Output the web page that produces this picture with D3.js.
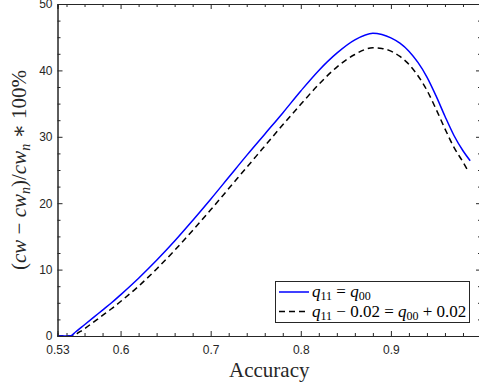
<!DOCTYPE html>
<html>
<head>
<meta charset="utf-8">
<script src="https://cdn.jsdelivr.net/npm/d3@7"></script>
<style>
  body { margin: 0; background: #fff; }
  svg { display: block; }
  .tick text { font-family: "Liberation Sans", Arial, sans-serif; font-size: 12px; fill: #262626; }
</style>
</head>
<body>
<svg id="chart"></svg>
<script>
// Data
var accEqual = [0.53, 0.544, 0.55, 0.56, 0.57, 0.58, 0.59, 0.60, 0.62, 0.64, 0.66, 0.68, 0.70, 0.72, 0.74, 0.76, 0.78, 0.80, 0.82, 0.84, 0.86, 0.88, 0.89, 0.90, 0.91, 0.92, 0.93, 0.94, 0.95, 0.96, 0.97, 0.98, 0.988];
var gainEqual = [0, 0, 0.6, 1.7, 2.8, 3.9, 5.0, 6.2, 8.7, 11.4, 14.3, 17.4, 20.6, 23.9, 27.2, 30.4, 33.6, 36.9, 40.0, 42.6, 44.6, 45.6, 45.4, 44.9, 44.1, 42.9, 41.2, 39.0, 36.2, 33.1, 30.2, 27.9, 26.4];

var accShift = [0.53, 0.548, 0.55, 0.56, 0.57, 0.58, 0.59, 0.60, 0.62, 0.64, 0.66, 0.68, 0.70, 0.72, 0.74, 0.76, 0.78, 0.80, 0.82, 0.84, 0.86, 0.88, 0.89, 0.90, 0.91, 0.92, 0.93, 0.94, 0.95, 0.96, 0.97, 0.98, 0.985];
var gainShift = [0, 0, 0.2, 1.1, 2.1, 3.1, 4.1, 5.2, 7.5, 10.1, 12.9, 15.9, 19.0, 22.2, 25.4, 28.6, 31.8, 34.9, 37.9, 40.5, 42.4, 43.4, 43.3, 42.9, 42.1, 40.9, 39.2, 37.0, 34.2, 31.2, 28.4, 26.2, 25.0];

var xTicks = [0.53, 0.6, 0.7, 0.8, 0.9];
var xMinor = [0.54, 0.56, 0.58, 0.62, 0.64, 0.66, 0.68, 0.72, 0.74, 0.76, 0.78, 0.82, 0.84, 0.86, 0.88, 0.92, 0.94, 0.96, 0.98];
var yTicks = [0, 10, 20, 30, 40, 50];
var yMinor = [2.5, 5, 7.5, 12.5, 15, 17.5, 22.5, 25, 27.5, 32.5, 35, 37.5, 42.5, 45, 47.5];

var width = 479,
    height = 387;

var svg = d3.select("#chart")
    .attr("width", width)
    .attr("height", height);

svg.append("rect")
    .attr("width", width)
    .attr("height", height)
    .attr("fill", "#fff");

// Scales
var x = d3.scaleLinear().domain([0.53, 1.0]).range([57.5, 481]);
var y = d3.scaleLinear().domain([0, 50]).range([336, 4]);

var axisColour = "#262626";

// Curves
var line = d3.line()
    .x(function (d) { return x(d[0]); })
    .y(function (d) { return y(d[1]); })
    .curve(d3.curveMonotoneX);

svg.append("path")
    .datum(d3.zip(accShift, gainShift))
    .attr("d", line)
    .attr("fill", "none")
    .attr("stroke", "#000")
    .attr("stroke-width", 1.5)
    .attr("stroke-dasharray", "6,4");

svg.append("path")
    .datum(d3.zip(accEqual, gainEqual))
    .attr("d", line)
    .attr("fill", "none")
    .attr("stroke", "#0000ff")
    .attr("stroke-width", 1.5);

// Axes (ticks point inwards, box on all sides)
function addAxis(axis, tx, ty) {
    var g = svg.append("g")
        .attr("transform", "translate(" + tx + "," + ty + ")")
        .call(axis);
    g.selectAll("path, line").attr("stroke", axisColour);
    return g;
}

addAxis(d3.axisBottom(x).tickValues(xMinor).tickSize(-3).tickFormat(""), 0, y(0));
addAxis(d3.axisTop(x).tickValues(xMinor).tickSize(-3).tickFormat(""), 0, y(50));
addAxis(d3.axisLeft(y).tickValues(yMinor).tickSize(-3).tickFormat(""), x(0.53), 0);
addAxis(d3.axisRight(y).tickValues(yMinor).tickSize(-3).tickFormat(""), x(1.0), 0);

addAxis(d3.axisBottom(x).tickValues(xTicks).tickSizeInner(-5).tickSizeOuter(0).tickPadding(9.5)
    .tickFormat(function (d) { return d === 0.53 ? "0.53" : d3.format(".1f")(d); }), 0, y(0));
addAxis(d3.axisTop(x).tickValues(xTicks).tickSize(-5).tickFormat(""), 0, y(50));
addAxis(d3.axisLeft(y).tickValues(yTicks).tickSizeInner(-5).tickSizeOuter(0).tickPadding(5), x(0.53), 0);
addAxis(d3.axisRight(y).tickValues(yTicks).tickSize(-5).tickFormat(""), x(1.0), 0);

// Axis labels
svg.append("text")
    .attr("x", (x(0.53) + 481) / 2)
    .attr("y", 377)
    .attr("text-anchor", "middle")
    .attr("font-family", "'Liberation Serif', 'DejaVu Serif', serif")
    .attr("font-size", 21)
    .attr("fill", "#262626")
    .text("Accuracy");

var ylab = svg.append("text")
    .attr("transform", "translate(26," + y(25) + ") rotate(-90)")
    .attr("text-anchor", "middle")
    .attr("font-family", "'Liberation Serif', 'DejaVu Serif', serif")
    .attr("font-size", 21)
    .attr("fill", "#262626");

var yParts = [
    ["(", false, false], ["cw", true, false], [" \u2212 ", false, false], ["cw", true, false],
    ["n", true, true], [")/", false, false], ["cw", true, false], ["n", true, true],
    [" \u2217 100%", false, false]
];
yParts.forEach(function (p, i) {
    var t = ylab.append("tspan")
        .attr("font-style", p[1] ? "italic" : "normal")
        .text(p[0]);
    if (p[2]) t.attr("font-size", 14).attr("dy", 4);
    else if (i > 0 && yParts[i - 1][2]) t.attr("dy", -4);
});

// Legend
var legend = svg.append("g");
legend.append("rect")
    .attr("x", 275.5)
    .attr("y", 281.5)
    .attr("width", 194)
    .attr("height", 41)
    .attr("fill", "#fff")
    .attr("stroke", axisColour)
    .attr("stroke-width", 1);

var legendItems = [
    { colour: "#0000ff", dash: null, rows: [["q", true, false], ["11", false, true], [" = ", false, false], ["q", true, false], ["00", false, true]] },
    { colour: "#000", dash: "6,4", rows: [["q", true, false], ["11", false, true], [" \u2212 0.02 = ", false, false], ["q", true, false], ["00", false, true], [" + 0.02", false, false]] }
];

legendItems.forEach(function (item, i) {
    var ly = 292 + i * 19.5;
    legend.append("line")
        .attr("x1", 279)
        .attr("x2", 309)
        .attr("y1", ly)
        .attr("y2", ly)
        .attr("stroke", item.colour)
        .attr("stroke-width", 1.5)
        .attr("stroke-dasharray", item.dash);
    var t = legend.append("text")
        .attr("x", 312)
        .attr("y", ly + 5)
        .attr("font-family", "'Liberation Serif', 'DejaVu Serif', serif")
        .attr("font-size", 17)
        .attr("fill", "#000");
    item.rows.forEach(function (p, j) {
        var s = t.append("tspan")
            .attr("font-style", p[1] ? "italic" : "normal")
            .text(p[0]);
        if (p[2]) s.attr("font-size", 12).attr("dy", 3);
        else if (j > 0 && item.rows[j - 1][2]) s.attr("dy", -3);
    });
});
</script>
</body>
</html>
